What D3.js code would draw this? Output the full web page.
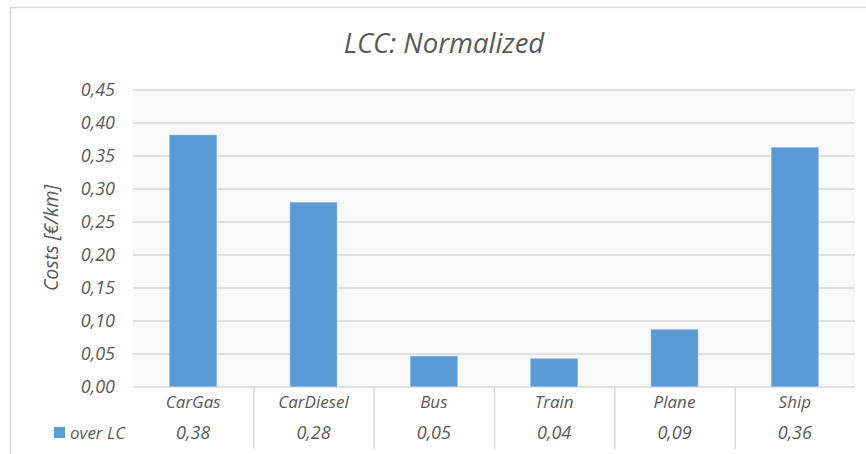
<!DOCTYPE html>
<html>
<head>
<meta charset="utf-8">
<script src="https://cdn.jsdelivr.net/npm/d3@7"></script>
<style>
  html, body { margin: 0; padding: 0; background: #fff; }
  svg { display: block; font-family: "Open Sans", sans-serif; font-style: italic; }
</style>
</head>
<body>
<svg id="chart" width="866" height="454"></svg>
<script>
// Normalized life-cycle costs per transport mode
const categories = ["CarGas", "CarDiesel", "Bus", "Train", "Plane", "Ship"];
const overLC = [0.381, 0.279, 0.046, 0.042, 0.086, 0.362];
const yTicks = [0, 0.05, 0.10, 0.15, 0.20, 0.25, 0.30, 0.35, 0.40, 0.45];
const seriesName = "over LC";
const chartTitle = "LCC: Normalized";
const yTitle = "Costs [€/km]";

const W = 866, H = 454;
const plot = { left: 133, right: 855, top: 89.5, bottom: 386.5 };
const textColor = "#595959";
const gridColor = "#d9d9d9";
const barColor = "#5b9bd5";
const numSize = 18, catSize = 17;
const fmt = v => d3.format(".2f")(v).replace(".", ",");

const svg = d3.select("#chart");

// outer chart frame (top and left edges)
svg.append("path")
  .attr("d", `M10.5,${H} V7.5 H${W}`)
  .attr("fill", "none").attr("stroke", gridColor).attr("stroke-width", 1.5);

// plot background
svg.append("rect")
  .attr("x", plot.left).attr("y", plot.top)
  .attr("width", plot.right - plot.left).attr("height", plot.bottom - plot.top)
  .attr("fill", "#f9f9f9");

const y = d3.scaleLinear().domain([0, 0.45]).range([plot.bottom, plot.top]);
const x = d3.scaleBand().domain(categories).range([plot.left, plot.right])
  .paddingInner(0.61).paddingOuter(0.305);
const xCell = d3.scaleBand().domain(categories).range([plot.left, plot.right]);

// gridlines + tick labels
const yAxis = d3.axisLeft(y).tickValues(yTicks).tickFormat(fmt)
  .tickSize(-(plot.right - plot.left)).tickPadding(18);
const gy = svg.append("g").attr("transform", `translate(${plot.left},0)`).call(yAxis);
gy.select(".domain").remove();
gy.selectAll(".tick line").attr("stroke", gridColor).attr("stroke-width", 1.5);
gy.selectAll(".tick text")
  .attr("fill", textColor).attr("font-size", numSize)
  .attr("font-family", "Open Sans").attr("font-style", "italic");

// bars
svg.append("g").selectAll("rect").data(categories).join("rect")
  .attr("x", d => x(d))
  .attr("y", (d, i) => y(overLC[i]))
  .attr("width", x.bandwidth())
  .attr("height", (d, i) => y(0) - y(overLC[i]))
  .attr("fill", barColor)
  .attr("stroke", "#8cb9e3").attr("stroke-width", 0.6);

// data table: column separators
const tableBottom = 449;
svg.append("g").selectAll("line").data(categories.slice(1)).join("line")
  .attr("x1", d => xCell(d) + 0.5).attr("x2", d => xCell(d) + 0.5)
  .attr("y1", plot.bottom).attr("y2", tableBottom)
  .attr("stroke", gridColor).attr("stroke-width", 1.5);

// category row
svg.append("g").selectAll("text").data(categories).join("text")
  .attr("x", d => xCell(d) + xCell.bandwidth() / 2)
  .attr("y", 408)
  .attr("text-anchor", "middle")
  .attr("fill", textColor).attr("font-size", catSize)
  .text(d => d);

// value row
svg.append("g").selectAll("text").data(categories).join("text")
  .attr("x", d => xCell(d) + xCell.bandwidth() / 2)
  .attr("y", 438.5)
  .attr("text-anchor", "middle")
  .attr("fill", textColor).attr("font-size", numSize)
  .text((d, i) => fmt(overLC[i]));

// legend key in the table
svg.append("rect")
  .attr("x", 54).attr("y", 427).attr("width", 11).attr("height", 11)
  .attr("fill", barColor);
svg.append("text")
  .attr("x", 70).attr("y", 438.5)
  .attr("fill", textColor).attr("font-size", catSize)
  .text(seriesName);

// title
svg.append("text")
  .attr("x", 444).attr("y", 53)
  .attr("text-anchor", "middle")
  .attr("fill", textColor).attr("font-size", 27.5)
  .text(chartTitle);

// y-axis title
svg.append("text")
  .attr("transform", `translate(58,${(plot.top + plot.bottom) / 2}) rotate(-90)`)
  .attr("text-anchor", "middle")
  .attr("fill", textColor).attr("font-size", 19.5)
  .text(yTitle);
</script>
</body>
</html>
